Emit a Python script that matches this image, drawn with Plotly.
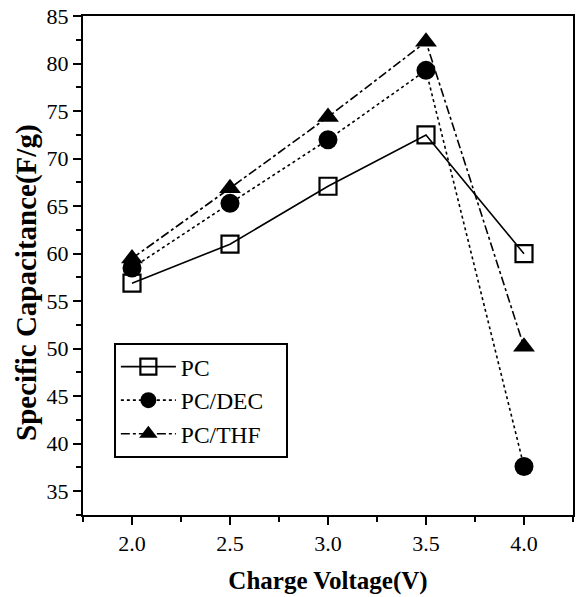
import plotly.graph_objects as go

voltage = [2.0, 2.5, 3.0, 3.5, 4.0]
pc = [56.9, 61.0, 67.1, 72.5, 60.0]
pc_dec = [58.5, 65.3, 72.0, 79.3, 37.6]
pc_thf = [59.5, 66.9, 74.4, 82.3, 50.2]
tick_vals_x = [2.0, 2.5, 3.0, 3.5, 4.0]
tick_text_x = ["2.0", "2.5", "3.0", "3.5", "4.0"]
tick_vals_y = [35, 40, 45, 50, 55, 60, 65, 70, 75, 80, 85]

series = [
    ("PC", pc, "solid", "square-open", 17),
    ("PC/DEC", pc_dec, "dot", "circle", 19),
    ("PC/THF", pc_thf, "dashdot", "triangle-up", 19),
]

fig = go.Figure()
for name, ys, dash, sym, sz in series:
    fig.add_trace(go.Scatter(
        x=voltage, y=ys, name=name + "\u00a0\u00a0\u00a0", mode="lines+markers",
        line=dict(color="black", width=1.6, dash=dash),
        marker=dict(symbol=sym, size=sz, color="black",
                    line=dict(color="black", width=2.2 if sym == "square-open" else 0)),
    ))

fig.update_layout(
    width=578, height=597,
    margin=dict(l=83, r=5, t=16, b=82, autoexpand=False),
    paper_bgcolor="white", plot_bgcolor="white",
    showlegend=True,
    legend=dict(
        x=0.063, y=0.345, xanchor="left", yanchor="top",
        bgcolor="white", bordercolor="black", borderwidth=2,
        font=dict(family="Liberation Serif", size=23.5, color="black"),
        itemwidth=55, tracegroupgap=0,
    ),
    font=dict(family="Liberation Serif", color="black"),
    annotations=[dict(
        text="<b>Specific Capacitance(F/g)</b>", textangle=-90,
        xref="paper", yref="paper", x=0, y=0.465, xanchor="center", yanchor="middle",
        xshift=-56, showarrow=False,
        font=dict(family="Liberation Serif", size=29, color="black"),
    )],
)
fig.update_xaxes(
    range=[1.75, 4.25], tickvals=tick_vals_x, ticktext=tick_text_x,
    ticks="outside", ticklen=8, tickwidth=2, tickcolor="black",
    minor=dict(tickvals=[1.75, 2.25, 2.75, 3.25, 3.75, 4.25], ticks="outside",
               ticklen=5, tickwidth=2, tickcolor="black"),
    showline=True, linecolor="black", linewidth=2, mirror=True,
    showgrid=False, zeroline=False,
    tickfont=dict(family="Liberation Serif", size=22, color="black"),
    title=dict(text="<b>Charge Voltage(V)</b>",
               font=dict(family="Liberation Serif", size=25, color="black"), standoff=16),
)
fig.update_yaxes(
    range=[32.5, 85.02], tickvals=tick_vals_y,
    ticks="outside", ticklen=8, tickwidth=2, tickcolor="black",
    minor=dict(tickvals=[32.5, 37.5, 42.5, 47.5, 52.5, 57.5, 62.5, 67.5, 72.5, 77.5, 82.5],
               ticks="outside", ticklen=5, tickwidth=2, tickcolor="black"),
    showline=True, linecolor="black", linewidth=2, mirror=True,
    showgrid=False, zeroline=False,
    tickfont=dict(family="Liberation Serif", size=22, color="black"),
    ticklabeloverflow="allow",
)
fig.write_html("out.html", config={"displayModeBar": False},
               post_script="document.body.style.margin='0';")
